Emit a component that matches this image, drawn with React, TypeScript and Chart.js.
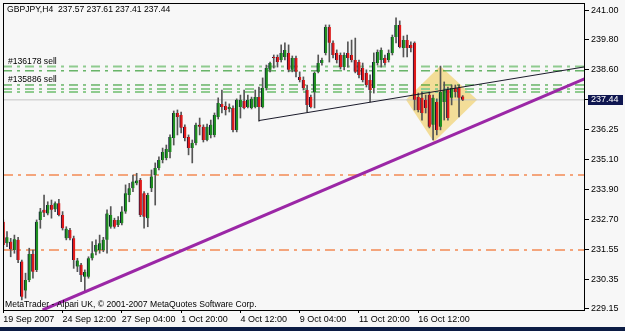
import React, { useEffect, useRef } from 'react';
import { Chart, registerables } from 'chart.js';

Chart.register(...registerables);

// ---- text ----
const symbolTitle = 'GBPJPY,H4  237.57 237.61 237.41 237.44';
const copyrightText = 'MetaTrader - Alpari UK, \u00A9 2001-2007 MetaQuotes Software Corp.';
const orderLabels = ['#136178 sell', '#135886 sell'];
const orderLabelPrices = [238.95, 238.23];

// ---- time axis (bar index -> label) ----
const timeLabels = ['19 Sep 2007', '24 Sep 12:00', '27 Sep 04:00', '1 Oct 20:00', '4 Oct 12:00', '9 Oct 04:00', '11 Oct 20:00', '16 Oct 12:00'];
const timeLabelBars = [0, 16, 32, 48, 64, 80, 96, 112];

// ---- price axis ----
const priceTicks = [229.15, 230.335, 231.52, 232.705, 233.89, 235.075, 236.26, 237.445, 238.63, 239.815, 241.0];
const priceTickLabels = ['229.15', '230.35', '231.55', '232.70', '233.90', '235.10', '236.25', '', '238.60', '239.80', '241.00'];
const currentPrice = 237.44;

// ---- H4 candles ----
const opens = [
  232.61, 231.76, 231.82, 231.49, 231.89, 231.03, 229.88, 230.30, 231.33, 230.70,
  232.68, 233.08, 232.94, 233.27, 233.10, 233.34, 232.88, 231.95, 232.28, 231.95,
  230.83, 230.90, 230.43, 230.43, 231.16, 231.42, 231.49, 231.49, 231.89, 232.41,
  232.68, 232.48, 232.55, 233.01, 233.67, 233.94, 234.13, 234.26, 233.74, 232.75,
  233.94, 234.46, 234.74, 235.06, 235.14, 235.37, 235.93, 236.92, 236.84, 236.37,
  235.97, 235.53, 235.73, 236.45, 236.37, 235.85, 236.05, 236.05, 236.76, 237.28,
  237.20, 237.08, 237.12, 236.25, 237.16, 237.40, 237.16, 237.12, 237.16, 237.55,
  237.16, 237.91, 238.63, 239.14, 239.14, 239.02, 239.14, 239.30, 238.63, 239.10,
  238.35, 238.23, 237.83, 237.55, 237.75, 238.55, 238.90, 239.30, 240.33, 239.70,
  239.30, 239.22, 238.74, 239.30, 239.22, 239.02, 238.94, 238.70, 238.51, 238.23,
  237.91, 238.90, 239.02, 239.10, 239.02, 239.30, 239.93, 240.41, 239.50, 239.81,
  239.62, 239.70, 237.55, 237.52, 237.44, 237.63, 236.45, 237.36, 236.37, 237.36,
  237.83, 237.52, 237.91, 237.91, 237.57,
];
const highs = [
  232.68, 232.22, 231.95, 232.08, 231.99, 231.09, 230.57, 231.56, 231.49, 232.68,
  233.14, 233.67, 233.40, 233.47, 233.40, 233.50, 233.01, 232.41, 232.35, 232.04,
  231.16, 230.96, 230.70, 231.22, 231.82, 231.89, 232.08, 231.99, 233.08, 233.21,
  232.75, 232.81, 233.21, 234.07, 234.13, 234.46, 234.53, 234.33, 233.80, 233.74,
  234.66, 234.94, 235.18, 235.53, 235.65, 236.05, 237.00, 237.04, 236.96, 236.45,
  236.05, 235.85, 236.52, 236.72, 236.45, 236.48, 236.64, 236.92, 237.52, 237.83,
  237.36, 237.28, 237.20, 237.48, 237.63, 237.83, 237.63, 237.55, 237.83, 237.95,
  238.31, 238.82, 238.94, 239.22, 239.22, 239.62, 239.70, 239.62, 239.18, 239.18,
  238.55, 238.35, 238.03, 237.63, 238.55, 239.22, 239.10, 240.41, 240.41, 239.78,
  239.42, 239.30, 239.30, 239.74, 239.81, 239.89, 239.02, 238.90, 238.63, 238.43,
  239.30, 239.42, 239.50, 239.22, 239.42, 240.01, 240.69, 240.57, 239.97, 240.01,
  239.74, 239.74, 237.71, 237.75, 237.63, 237.75, 237.63, 237.48, 238.78, 238.15,
  237.95, 238.03, 238.03, 238.03, 237.61,
];
const lows = [
  231.49, 231.62, 231.22, 231.36, 230.99, 229.51, 229.58, 230.23, 230.37, 230.63,
  232.35, 232.81, 232.88, 232.75, 233.01, 232.84, 232.28, 231.89, 231.89, 230.76,
  230.63, 230.23, 229.84, 230.37, 231.09, 231.29, 231.36, 231.42, 231.36, 232.35,
  232.35, 232.41, 232.48, 232.94, 233.40, 233.80, 234.07, 232.81, 232.35, 232.41,
  233.80, 233.27, 234.66, 234.94, 235.06, 235.14, 235.65, 236.05, 236.13, 235.81,
  235.26, 234.94, 235.65, 236.05, 235.77, 235.81, 235.93, 235.97, 236.68, 236.92,
  236.84, 236.96, 236.17, 236.17, 236.72, 237.08, 237.12, 237.08, 237.12, 236.60,
  237.12, 237.83, 238.55, 238.70, 238.74, 238.94, 239.02, 238.55, 238.55, 238.35,
  238.15, 237.83, 236.96, 237.12, 237.12, 238.51, 238.82, 239.22, 238.94, 239.10,
  238.90, 238.66, 238.63, 238.74, 238.94, 238.51, 238.31, 238.15, 237.95, 237.36,
  237.71, 238.82, 238.74, 238.82, 238.94, 239.22, 239.70, 239.50, 239.14, 239.14,
  239.34, 237.04, 236.96, 236.64, 236.92, 236.33, 235.85, 236.05, 236.25, 236.64,
  236.64, 237.24, 237.55, 236.76, 237.41,
];
const closes = [
  231.69, 231.99, 231.52, 231.91, 231.09, 229.64, 230.30, 231.33, 230.63, 232.61,
  233.01, 232.97, 233.27, 233.08, 233.34, 232.88, 232.35, 232.33, 231.95, 231.09,
  231.07, 230.50, 230.62, 231.16, 231.36, 231.69, 231.76, 231.89, 232.94, 232.88,
  232.41, 232.68, 233.01, 233.74, 233.94, 234.20, 234.24, 232.88, 232.81, 233.67,
  234.40, 234.74, 235.06, 235.37, 235.49, 235.97, 236.92, 236.76, 236.33, 235.93,
  235.53, 235.73, 236.45, 236.37, 235.85, 236.37, 236.45, 236.84, 237.32, 237.16,
  237.04, 237.16, 236.25, 237.44, 237.44, 237.12, 237.44, 237.48, 237.55, 237.16,
  237.91, 238.70, 238.90, 239.10, 238.94, 239.30, 239.42, 238.63, 239.10, 238.55,
  238.23, 237.91, 237.24, 237.16, 238.51, 238.90, 239.02, 240.33, 239.70, 239.22,
  239.02, 238.74, 239.22, 239.10, 239.02, 238.55, 238.43, 238.23, 238.03, 237.83,
  238.94, 239.34, 239.42, 238.90, 239.30, 239.93, 240.41, 239.54, 239.81, 239.50,
  239.50, 237.44, 237.04, 236.92, 237.12, 236.37, 237.52, 236.25, 237.75, 237.83,
  236.72, 237.91, 237.75, 237.52, 237.44,
];

// ---- horizontal levels ----
const orangeLevels = [234.46, 231.49];
const lightGreenLevels = [238.76, 237.87, 237.75];
const darkGreenLevels = [238.59, 238.03];

// ---- trendlines & shapes (bar index, price) ----
const blackTrendX = [69, 157];
const blackTrendY = [236.62, 238.75];
const purpleTrendX = [10.6, 157];
const purpleTrendY = [229.11, 238.28];
const diamondX = [108.7, 117.9, 127.9, 116.2, 108.7];
const diamondY = [237.44, 238.78, 237.44, 235.77, 237.44];

const X_MIN = -0.08;
const X_MAX = 157.0;
const Y_MIN = 229.11;
const Y_MAX = 241.28;
const FONT = 'Liberation Sans';

const decorPlugin = {
  id: 'mtDecor',
  beforeDraw(chart: any) {
    const { ctx, width, height } = chart;
    ctx.save();
    ctx.fillStyle = '#f7f7f7';
    ctx.fillRect(0, 0, width, height);
    ctx.restore();
  },
  afterDraw(chart: any) {
    const { ctx, chartArea: a } = chart;
    const ys = chart.scales.y;
    ctx.save();
    // frame
    ctx.strokeStyle = '#000';
    ctx.lineWidth = 1;
    ctx.strokeRect(Math.round(a.left) + 0.5, Math.round(a.top) + 0.5, Math.round(a.right - a.left) - 1, Math.round(a.bottom - a.top));
    // texts
    ctx.fillStyle = '#000';
    ctx.font = `8.6px "${FONT}"`;
    ctx.textBaseline = 'middle';
    ctx.textAlign = 'left';
    ctx.fillText(symbolTitle, 7, 10);
    orderLabels.forEach((t, i) => {
      ctx.fillText(t, 8, ys.getPixelForValue(orderLabelPrices[i]));
    });
    ctx.fillText(copyrightText, 5, a.bottom - 5);
    // current price box
    const py = ys.getPixelForValue(currentPrice);
    ctx.fillStyle = '#0f1650';
    ctx.fillRect(588, Math.round(py) - 5, 35, 10);
    ctx.fillStyle = '#fff';
    ctx.font = `9px "${FONT}"`;
    ctx.fillText(currentPrice.toFixed(2), 591, py);
    // window band
    ctx.fillStyle = '#0c1c44';
    ctx.fillRect(0, 327, chart.width, 4);
    ctx.restore();
  },
};

function levelDataset(v: number, color: string, width: number, dash: number[], order: number) {
  return {
    type: 'line' as const,
    data: [{ x: X_MIN, y: v }, { x: X_MAX, y: v }],
    borderColor: color,
    borderWidth: width,
    borderDash: dash,
    pointRadius: 0,
    fill: false,
    order,
  };
}

export default function App() {
  const ref = useRef<HTMLCanvasElement | null>(null);

  useEffect(() => {
    if (!ref.current) return;
    Chart.defaults.font.family = FONT;
    const wickData = opens.map((_, i) => ({ x: i, y: [lows[i], highs[i]] }));
    const bodyData = opens.map((o, i) => ({ x: i, y: [Math.min(o, closes[i]), Math.max(o, closes[i])] }));
    const bodyColors = opens.map((o, i) => (closes[i] >= o ? '#1f8f1f' : '#e01a1a'));

    const datasets: any[] = [
      {
        type: 'line',
        data: diamondX.map((x, i) => ({ x, y: diamondY[i] })),
        borderWidth: 0,
        borderColor: 'rgba(0,0,0,0)',
        backgroundColor: '#f3dd98',
        fill: 'shape',
        pointRadius: 0,
        tension: 0,
        order: 30,
      },
      ...orangeLevels.map((v) => levelDataset(v, '#f4a57c', 2, [10, 5, 3, 5], 20)),
      ...lightGreenLevels.map((v) => levelDataset(v, '#8fcb8f', 2, [9, 5, 3, 5], 19)),
      ...darkGreenLevels.map((v) => levelDataset(v, '#1f921f', 1, [9, 5, 3, 5], 18)),
      levelDataset(currentPrice, '#c4c4c4', 1, [], 17),
      {
        type: 'bar',
        data: wickData,
        backgroundColor: '#555555',
        barThickness: 1,
        grouped: false,
        order: 5,
      },
      {
        type: 'bar',
        data: bodyData,
        backgroundColor: bodyColors,
        borderColor: '#15153a',
        borderWidth: { left: 1, right: 0, top: 0, bottom: 0 },
        borderSkipped: false,
        barThickness: 3,
        minBarLength: 1,
        grouped: false,
        order: 4,
      },
      {
        type: 'line',
        data: blackTrendX.map((x, i) => ({ x, y: blackTrendY[i] })),
        borderColor: '#1a1a2a',
        borderWidth: 1,
        pointRadius: 0,
        fill: false,
        order: 2,
      },
      {
        type: 'line',
        data: purpleTrendX.map((x, i) => ({ x, y: purpleTrendY[i] })),
        borderColor: '#9b27a6',
        borderWidth: 3,
        pointRadius: 0,
        fill: false,
        order: 1,
      },
    ];

    const chart = new Chart(ref.current, {
      type: 'bar',
      data: { datasets },
      plugins: [decorPlugin],
      options: {
        responsive: false,
        animation: false,
        events: [],
        layout: { padding: { left: 3, top: 3, right: 0, bottom: 0 } },
        plugins: { legend: { display: false }, tooltip: { enabled: false } },
        scales: {
          x: {
            type: 'linear',
            min: X_MIN,
            max: X_MAX,
            offset: false,
            afterBuildTicks: (s: any) => {
              s.ticks = timeLabelBars.map((v) => ({ value: v }));
            },
            afterFit: (s: any) => {
              s.height = 21;
              s.paddingLeft = 0;
              s.paddingRight = 0;
            },
            ticks: {
              autoSkip: false,
              maxRotation: 0,
              align: 'start',
              padding: 1,
              color: '#000',
              font: { family: FONT, size: 9 },
              callback: (v: any) => timeLabels[timeLabelBars.indexOf(Number(v))] ?? '',
            },
            grid: { drawOnChartArea: false, offset: false, tickLength: 3, color: '#000' },
            border: { display: false },
          },
          y: {
            type: 'linear',
            position: 'right',
            min: Y_MIN,
            max: Y_MAX,
            afterBuildTicks: (s: any) => {
              s.ticks = priceTicks.map((v) => ({ value: v }));
            },
            afterFit: (s: any) => {
              s.width = 40;
              s.paddingTop = 0;
              s.paddingBottom = 0;
            },
            ticks: {
              padding: 2,
              color: '#000',
              font: { family: FONT, size: 9 },
              callback: (v: any) => {
                const idx = priceTicks.indexOf(Number(v));
                return idx >= 0 ? priceTickLabels[idx] : '';
              },
            },
            grid: { drawOnChartArea: false, tickLength: 4, color: '#000' },
            border: { display: false },
          },
        },
      } as any,
    });
    return () => chart.destroy();
  }, []);

  return (
    <div style={{ position: 'fixed', left: 0, top: 0, width: 625, height: 331 }}>
      <canvas ref={ref} width={625} height={331} style={{ display: 'block', width: 625, height: 331 }} />
    </div>
  );
}
